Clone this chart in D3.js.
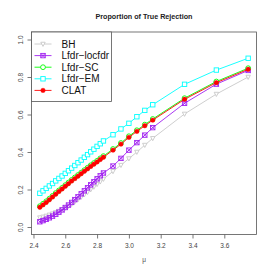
<!DOCTYPE html>
<html lang="en">
<head>
    <meta charset="utf-8" />
    <title>Proportion of True Rejection</title>
    <script src="https://cdn.jsdelivr.net/npm/d3@7"></script>
    <style>
        body { margin: 0; background: #fff; }
        text { font-family: "Liberation Sans", Arial, sans-serif; }
    </style>
</head>
<body>
    <div id="chart"></div>
    <script>
        // mu values on the x axis
        var mu = [2.44, 2.46, 2.48, 2.50, 2.52, 2.54, 2.56, 2.58, 2.60, 2.62, 2.64,
                  2.66, 2.68, 2.70, 2.72, 2.74, 2.76, 2.78, 2.80, 2.82, 2.84,
                  2.90, 2.95, 3.00, 3.05, 3.10, 3.15, 3.35, 3.55, 3.75];

        var bh = [0.050, 0.054, 0.059, 0.065, 0.071, 0.078, 0.085, 0.093, 0.102, 0.112, 0.123,
                  0.135, 0.147, 0.160, 0.173, 0.186, 0.200, 0.214, 0.228, 0.242, 0.256,
                  0.297, 0.330, 0.365, 0.400, 0.437, 0.473, 0.603, 0.709, 0.800];
        var locfdr = [0.028, 0.034, 0.041, 0.049, 0.058, 0.068, 0.079, 0.091, 0.104, 0.117, 0.131,
                      0.146, 0.161, 0.177, 0.193, 0.209, 0.225, 0.241, 0.257, 0.273, 0.288,
                      0.325, 0.366, 0.410, 0.450, 0.490, 0.530, 0.660, 0.762, 0.835];
        var sc = [0.111, 0.124, 0.137, 0.151, 0.166, 0.181, 0.195, 0.209, 0.223, 0.237, 0.251,
                  0.264, 0.277, 0.290, 0.303, 0.316, 0.329, 0.341, 0.353, 0.366, 0.378,
                  0.416, 0.448, 0.484, 0.516, 0.546, 0.576, 0.687, 0.776, 0.847];
        var em = [0.180, 0.193, 0.206, 0.219, 0.232, 0.246, 0.259, 0.272, 0.286, 0.300, 0.314,
                  0.328, 0.343, 0.357, 0.372, 0.386, 0.401, 0.415, 0.430, 0.444, 0.459,
                  0.492, 0.523, 0.553, 0.588, 0.622, 0.652, 0.761, 0.837, 0.900];
        var clat = [0.105, 0.118, 0.131, 0.145, 0.160, 0.175, 0.189, 0.203, 0.217, 0.231, 0.245,
                    0.258, 0.271, 0.284, 0.297, 0.310, 0.323, 0.335, 0.347, 0.360, 0.372,
                    0.410, 0.442, 0.478, 0.510, 0.540, 0.570, 0.681, 0.770, 0.841];

        var xTicks = [2.4, 2.6, 2.8, 3.0, 3.2, 3.4, 3.6];
        var yTicks = [0.0, 0.2, 0.4, 0.6, 0.8, 1.0];

        var series = [
            { name: "BH", values: bh, color: "#c8c8c8", shape: "tri" },
            { name: "Lfdr\u2212locfdr", values: locfdr, color: "#a020f0", shape: "sqx" },
            { name: "Lfdr\u2212SC", values: sc, color: "#00ff00", shape: "circle" },
            { name: "Lfdr\u2212EM", values: em, color: "#00ffff", shape: "square" },
            { name: "CLAT", values: clat, color: "#ff0000", shape: "dot" }
        ];

        var W = 273, H = 273;
        var pLeft = 31.5, pRight = 256.5, pTop = 32, pBottom = 234.5;

        var svg = d3.select("#chart").append("svg")
            .attr("width", W)
            .attr("height", H);

        // R style 4% padding on both axes
        var xPad = (d3.max(mu) - d3.min(mu)) * 0.04;
        var x = d3.scaleLinear()
            .domain([d3.min(mu) - xPad, d3.max(mu) + xPad])
            .range([pLeft, pRight]);
        var y = d3.scaleLinear()
            .domain([-0.04, 1.04])
            .range([pBottom, pTop]);

        //axes
        var xAxis = svg.append("g")
            .attr("transform", "translate(0," + pBottom + ")")
            .call(d3.axisBottom(x).tickValues(xTicks).tickSize(4).tickFormat(d3.format(".1f")));
        var yAxis = svg.append("g")
            .attr("transform", "translate(" + pLeft + ",0)")
            .call(d3.axisLeft(y).tickValues(yTicks).tickSize(4).tickFormat(d3.format(".1f")));

        [xAxis, yAxis].forEach(function (a) {
            a.select(".domain").remove();
            a.selectAll("line").attr("stroke", "#555").attr("stroke-width", 0.8);
            a.selectAll("text").attr("fill", "#444").style("font-size", "6.5px");
        });
        xAxis.selectAll("text").attr("dy", "0").attr("y", 13.5);
        // y labels are rotated, as R does by default
        yAxis.selectAll(".tick text")
            .attr("x", 0).attr("y", 0).attr("dy", 0)
            .attr("text-anchor", "middle")
            .attr("transform", "translate(-9,0) rotate(-90)");

        // plot box
        svg.append("rect")
            .attr("x", pLeft).attr("y", pTop)
            .attr("width", pRight - pLeft).attr("height", pBottom - pTop)
            .attr("fill", "none").attr("stroke", "#555").attr("stroke-width", 0.8);

        // title and x label
        svg.append("text")
            .attr("x", (pLeft + pRight) / 2).attr("y", 18.5)
            .attr("text-anchor", "middle")
            .style("font-size", "7.2px").style("font-weight", "bold")
            .attr("fill", "#222")
            .text("Proportion of True Rejection");
        svg.append("text")
            .attr("x", (pLeft + pRight) / 2).attr("y", 262)
            .attr("text-anchor", "middle")
            .style("font-size", "6.5px")
            .attr("fill", "#555")
            .text("\u03bc");

        function marker(g, shape, color, cx, cy) {
            var s = 2.2;
            if (shape === "tri") {
                g.append("path")
                    .attr("d", "M" + (cx - s) + "," + (cy - s * 0.8) + "L" + (cx + s) + "," + (cy - s * 0.8) + "L" + cx + "," + (cy + s * 1.1) + "Z")
                    .attr("fill", "white").attr("stroke", color).attr("stroke-width", 0.9);
            } else if (shape === "square" || shape === "sqx") {
                g.append("rect")
                    .attr("x", cx - s).attr("y", cy - s).attr("width", 2 * s).attr("height", 2 * s)
                    .attr("fill", shape === "square" ? "white" : "none")
                    .attr("stroke", color).attr("stroke-width", 0.9);
                if (shape === "sqx") {
                    g.append("path")
                        .attr("d", "M" + (cx - s) + "," + (cy - s) + "L" + (cx + s) + "," + (cy + s) + "M" + (cx + s) + "," + (cy - s) + "L" + (cx - s) + "," + (cy + s))
                        .attr("stroke", color).attr("stroke-width", 0.9);
                }
            } else if (shape === "circle") {
                g.append("circle").attr("cx", cx).attr("cy", cy).attr("r", s + 0.2)
                    .attr("fill", "white").attr("stroke", color).attr("stroke-width", 0.9);
            } else {
                g.append("circle").attr("cx", cx).attr("cy", cy).attr("r", 2.2)
                    .attr("fill", color).attr("stroke", color).attr("stroke-width", 0.5);
            }
        }

        var line = d3.line()
            .x(function (d, i) { return x(mu[i]); })
            .y(function (d) { return y(d); });

        series.forEach(function (s) {
            var g = svg.append("g");
            g.append("path")
                .attr("d", line(s.values))
                .attr("fill", "none")
                .attr("stroke", s.color)
                .attr("stroke-width", 0.9);
            s.values.forEach(function (v, i) {
                marker(g, s.shape, s.color, x(mu[i]), y(v));
            });
        });

        // legend
        var lg = svg.append("g");
        lg.append("rect")
            .attr("x", pLeft).attr("y", pTop)
            .attr("width", 80).attr("height", 69.5)
            .attr("fill", "white").attr("stroke", "#555").attr("stroke-width", 0.8);
        series.forEach(function (s, i) {
            var ly = pTop + 12 + i * 11.6;
            lg.append("line")
                .attr("x1", pLeft + 3).attr("x2", pLeft + 20)
                .attr("y1", ly).attr("y2", ly)
                .attr("stroke", s.color).attr("stroke-width", 0.9);
            marker(lg, s.shape, s.color, pLeft + 11.5, ly);
            lg.append("text")
                .attr("x", pLeft + 30).attr("y", ly + 3.6)
                .style("font-size", "10px")
                .attr("fill", "#111")
                .text(s.name);
        });
    </script>
</body>
</html>
